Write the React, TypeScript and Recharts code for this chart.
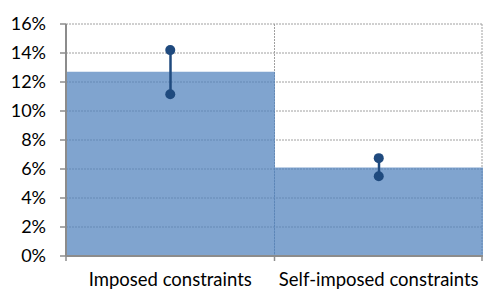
/* ──────────────────────────────────────────────
   Constraints chart — bars with min/max ranges
   ────────────────────────────────────────────── */

import {
  ComposedChart,
  Bar,
  Line,
  ErrorBar,
  XAxis,
  YAxis,
  CartesianGrid,
} from 'recharts';

const categories = ['Imposed constraints', 'Self-imposed constraints'];
const shares = [12.7, 6.1];
const rangeLow = [11.15, 5.5];
const rangeHigh = [14.2, 6.75];
const yTicks = [0, 2, 4, 6, 8, 10, 12, 14, 16];

const CHART_W = 483;
const CHART_H = 291;
const Y_AXIS_W = 66;
const BAND = (CHART_W - Y_AXIS_W) / categories.length;

const FONT = 'Lato, "Open Sans", sans-serif';
const AXIS_GREY = '#8c8c8c';
const RANGE_BLUE = '#1f4a7e';

const data = categories.map((name, i) => ({
  name,
  share: shares[i],
  low: rangeLow[i],
  high: rangeHigh[i],
  err: [shares[i] - rangeLow[i], rangeHigh[i] - shares[i]],
}));

/* ── category tick: label + boundary marks ───── */

function CategoryTick(props: any) {
  const { x, y, payload, index } = props;
  const left = x - BAND / 2;
  const right = x + BAND / 2;
  return (
    <g>
      <line x1={left} x2={left} y1={y} y2={y + 5} stroke={AXIS_GREY} strokeWidth={1.5} />
      {index === categories.length - 1 && (
        <line x1={right - 1} x2={right - 1} y1={y} y2={y + 5} stroke={AXIS_GREY} strokeWidth={1.5} />
      )}
      <text
        x={x}
        y={y + 30}
        textAnchor="middle"
        fill="#000"
        fontSize={18.5}
        fontFamily={FONT}
      >
        {payload.value}
      </text>
    </g>
  );
}

export default function App() {
  return (
    <div style={{ position: 'absolute', left: 0, top: 0 }}>
      <ComposedChart
        width={CHART_W}
        height={CHART_H}
        data={data}
        margin={{ top: 24, right: 0, bottom: 0, left: 0 }}
        barCategoryGap={0}
        barGap={0}
      >
        <CartesianGrid
          stroke="#a0a0a0"
          strokeDasharray="2 1"
          verticalCoordinatesGenerator={({ offset }: any) => [
            offset.left + offset.width / 2,
            offset.left + offset.width - 1,
          ]}
        />
        <XAxis
          dataKey="name"
          height={35}
          interval={0}
          tickSize={0}
          tickMargin={0}
          tickLine={false}
          axisLine={{ stroke: AXIS_GREY, strokeWidth: 2 }}
          tick={<CategoryTick />}
        />
        <YAxis
          width={Y_AXIS_W}
          domain={[0, 16]}
          ticks={yTicks}
          interval={0}
          tickFormatter={(v: number) => `${v}%`}
          tickSize={6}
          tickMargin={14}
          tickLine={{ stroke: AXIS_GREY, strokeWidth: 1.5 }}
          axisLine={{ stroke: AXIS_GREY, strokeWidth: 2 }}
          tick={{ fill: '#000', fontSize: 18, fontFamily: FONT }}
        />
        <Bar dataKey="share" fill="#4f81bd" fillOpacity={0.72} isAnimationActive={false}>
          <ErrorBar dataKey="err" width={0} stroke={RANGE_BLUE} strokeWidth={2.5} />
        </Bar>
        <Line
          dataKey="low"
          stroke="none"
          dot={{ r: 5, fill: RANGE_BLUE, stroke: 'none' }}
          activeDot={false}
          isAnimationActive={false}
        />
        <Line
          dataKey="high"
          stroke="none"
          dot={{ r: 5, fill: RANGE_BLUE, stroke: 'none' }}
          activeDot={false}
          isAnimationActive={false}
        />
      </ComposedChart>
    </div>
  );
}
